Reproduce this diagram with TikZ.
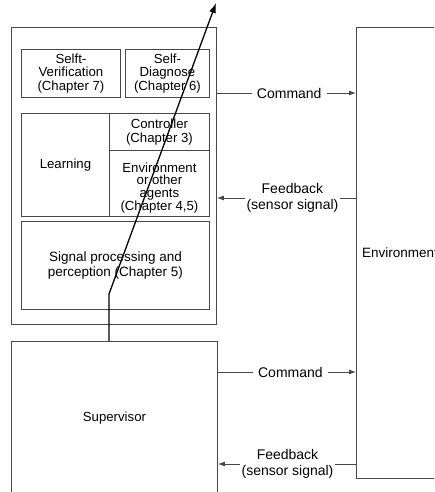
\documentclass[tikz,border=0pt]{standalone}
\usepackage{fontspec}
\setmainfont{Liberation Sans}
\usetikzlibrary{arrows.meta}
\begin{document}
\begin{tikzpicture}[x=1pt,y=-1pt,
  box/.style={draw=black!72, line width=0.9pt, rectangle, anchor=north west,
    inner sep=0pt, align=center,
    font=\fontsize{13.2}{13.4}\selectfont},
  conn/.style={draw=black!72, line width=0.9pt},
  cmdtip/.style={-{Latex[length=7pt,width=5pt]}},
  lbl/.style={fill=white, inner xsep=5pt, inner ysep=1pt, align=center,
    font=\fontsize{14}{15.5}\selectfont},
  fblbl/.style={lbl, inner xsep=2pt}]
\useasboundingbox[clip] (0,0) rectangle (434,492);
\fill[white] (0,0) rectangle (434,492);

% agent with its modules
\node[box, minimum width=205pt, minimum height=296.5pt] (agent) at (11,27.5) {};
\node[box, minimum width=99pt, minimum height=48pt] (verif) at (21,49)
  {Selft-\\Verification\\(Chapter 7)};
\node[box, minimum width=84pt, minimum height=48pt] (diag) at (125,49)
  {Self-\\Diagnose\\(Chapter 6)};
\node[box, minimum width=88pt, minimum height=103pt] (learn) at (21,113) {Learning};
\node[box, minimum width=100pt, minimum height=37pt] (ctrl) at (109,113)
  {Controller\\(Chapter 3)};
\node[box, minimum width=100pt, minimum height=66pt,
  font=\fontsize{13.2}{12.3}\selectfont] (envmodel) at (109,150)
  {\rule{0pt}{19pt}Environment\\or other\\agents\\(Chapter 4,5)};
\node[box, minimum width=188pt, minimum height=88pt,
  font=\fontsize{13.5}{15}\selectfont] (signal) at (21,221)
  {Signal processing and\\perception (Chapter 5)};

% supervisor and environment
\node[box, minimum width=206pt, minimum height=154pt] (sup) at (11,341) {Supervisor};
\node[box, minimum width=110pt, minimum height=450.5pt] (env) at (356,27) {};
\node[anchor=west, inner sep=0pt, font=\fontsize{13.5}{14}\selectfont]
  (envtxt) at (362,253) {Environment};

% command and feedback between agent and environment
\draw[conn, cmdtip] (agent.east |- 0,93) -- node[lbl, pos=0.52] {Command} (env.west |- 0,93);
\draw[conn, cmdtip] (env.west |- 0,198) -- node[fblbl, pos=0.457] {Feedback\\(sensor signal)} (agent.east |- 0,198);

% command and feedback between supervisor and environment
\draw[conn, cmdtip] (sup.east |- 0,372) -- node[lbl, pos=0.525] {Command} (env.west |- 0,372);
\draw[conn, cmdtip] (env.west |- 0,464) -- node[fblbl, pos=0.496] {Feedback\\(sensor signal)} (sup.east |- 0,464);

% supervisor line running up through the agent
\coordinate (bend) at (109,294);
\coordinate (tip) at (216,3);
\draw[line width=1.3pt, -{Latex[length=10pt,width=7pt]}] (bend |- sup.north) -- (bend) -- (tip);
\end{tikzpicture}
\end{document}
